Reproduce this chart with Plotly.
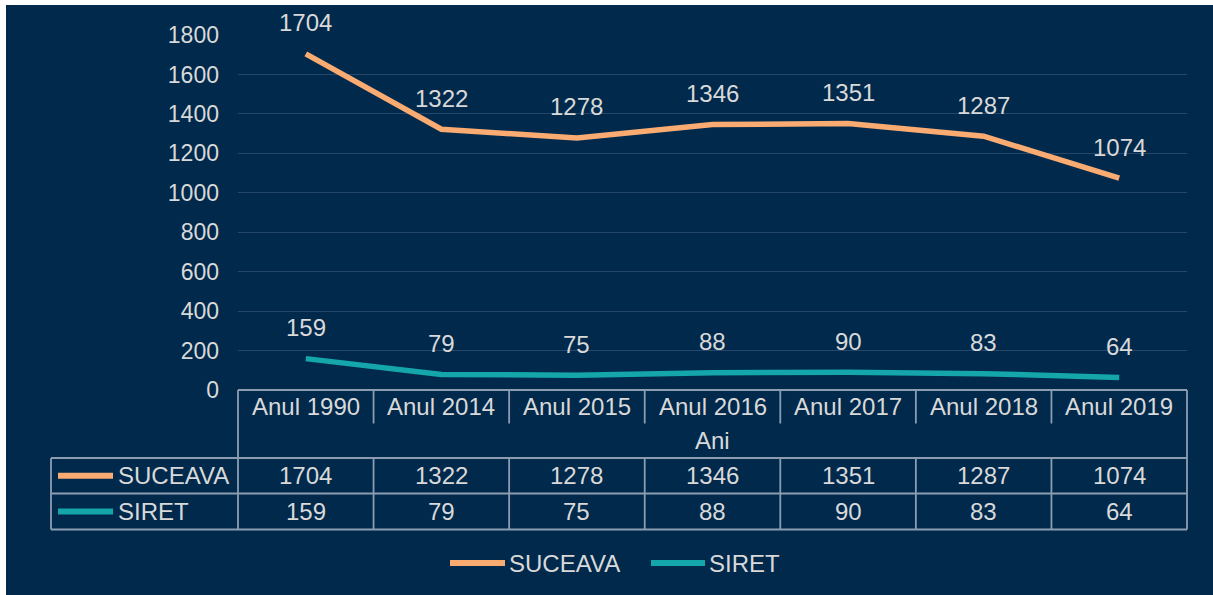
import plotly.graph_objects as go

categories = ["Anul 1990", "Anul 2014", "Anul 2015", "Anul 2016", "Anul 2017", "Anul 2018", "Anul 2019"]
suceava = [1704, 1322, 1278, 1346, 1351, 1287, 1074]
siret = [159, 79, 75, 88, 90, 83, 64]
series_names = ["SUCEAVA", "SIRET"]
series_colors = ["#F9AB72", "#14A6AA"]
axis_title = "Ani"

NAVY = "#00294C"
TXT = "#D9D9D9"
GRID = "#24476B"
TLINE = "#8D9DB1"
FONT = "Liberation Sans, Arial, sans-serif"
FS = 24

W, H = 1213, 595
L, R, T, B = 238, 26, 35, 205
PW, PH = W - L - R, H - T - B


def px(xp):
    return (xp - L) / PW


def py(yp):
    return (H - B - yp) / PH


fig = go.Figure()
xs = list(range(len(categories)))
for name, vals, col in zip(series_names, [suceava, siret], series_colors):
    fig.add_trace(go.Scatter(x=xs, y=vals, mode="lines", name=name,
                             line=dict(color=col, width=5.5), showlegend=False,
                             hoverinfo="skip"))

shapes = []
# background
shapes.append(dict(type="rect", xref="paper", yref="paper", x0=px(6), x1=px(W + 5),
                   y0=py(H + 5), y1=py(5), fillcolor=NAVY, line=dict(width=0), layer="below"))

annotations = []


def ann(x, y, text, xref="x", yref="paper", xanchor="center", yshift=0):
    annotations.append(dict(x=x, y=y, xref=xref, yref=yref, text=text, showarrow=False,
                            xanchor=xanchor, yanchor="middle", yshift=yshift,
                            font=dict(size=FS, color=TXT, family=FONT)))


# data labels
for vals in [suceava, siret]:
    for i, v in enumerate(vals):
        ann(i, v, str(v), yref="y", yshift=31)

ln = dict(color=TLINE, width=1.8)
y_top, y_cat, y_ani, y_r1, y_r2 = py(390), py(423.5), py(458), py(493.5), py(529.5)
n = len(categories)
# horizontal table lines
shapes.append(dict(type="line", xref="paper", yref="paper", x0=0, x1=1, y0=y_top, y1=y_top, line=ln))
for yy in [y_ani, y_r1, y_r2]:
    shapes.append(dict(type="line", xref="paper", yref="paper", x0=px(51), x1=1, y0=yy, y1=yy, line=ln))
# vertical table lines
shapes.append(dict(type="line", xref="paper", yref="paper", x0=px(51), x1=px(51), y0=y_ani, y1=y_r2, line=ln))
shapes.append(dict(type="line", xref="paper", yref="paper", x0=0, x1=0, y0=y_top, y1=y_r2, line=ln))
shapes.append(dict(type="line", xref="paper", yref="paper", x0=1, x1=1, y0=y_top, y1=y_r2, line=ln))
for k in range(1, n):
    xk = k - 0.5
    shapes.append(dict(type="line", xref="x", yref="paper", x0=xk, x1=xk, y0=y_top, y1=y_cat, line=ln))
    shapes.append(dict(type="line", xref="x", yref="paper", x0=xk, x1=xk, y0=y_ani, y1=y_r2, line=ln))

# category labels
for i, c in enumerate(categories):
    ann(i, (y_top + y_cat) / 2, c)
ann(0.5, (y_cat + y_ani) / 2, axis_title, xref="paper")
# table values
for r, vals in enumerate([suceava, siret]):
    yc = [(y_ani + y_r1) / 2, (y_r1 + y_r2) / 2][r]
    for i, v in enumerate(vals):
        ann(i, yc, str(v))
    # row legend keys
    shapes.append(dict(type="line", xref="paper", yref="paper", x0=px(58), x1=px(113),
                       y0=yc, y1=yc, line=dict(color=series_colors[r], width=6)))
    ann(px(116), yc, series_names[r], xref="paper", xanchor="left")

# bottom legend
yl = py(563)
for (x0, x1, xt), name, col in zip([(450, 505, 507), (651, 705, 707)], series_names, series_colors):
    shapes.append(dict(type="line", xref="paper", yref="paper", x0=px(x0), x1=px(x1),
                       y0=yl, y1=yl, line=dict(color=col, width=6)))
    ann(px(xt), yl, name, xref="paper", xanchor="left")

fig.update_layout(
    width=W, height=H,
    margin=dict(l=L, r=R, t=T, b=B, pad=0),
    paper_bgcolor="white", plot_bgcolor=NAVY,
    font=dict(family=FONT, size=FS, color=TXT),
    shapes=shapes, annotations=annotations, showlegend=False,
    xaxis=dict(range=[-0.5, n - 0.5], showgrid=False, zeroline=False, showticklabels=False,
               fixedrange=True),
    yaxis=dict(range=[0, 1800], dtick=200, showgrid=True, gridcolor=GRID, gridwidth=1.2,
               zeroline=False, showline=False, ticks="", ticklabelstandoff=18,
               tickfont=dict(size=23, color=TXT, family=FONT), fixedrange=True),
)

fig.write_html("out.html", config={"displayModeBar": False},
               post_script="document.body.style.margin='0';document.body.style.overflow='hidden';")
